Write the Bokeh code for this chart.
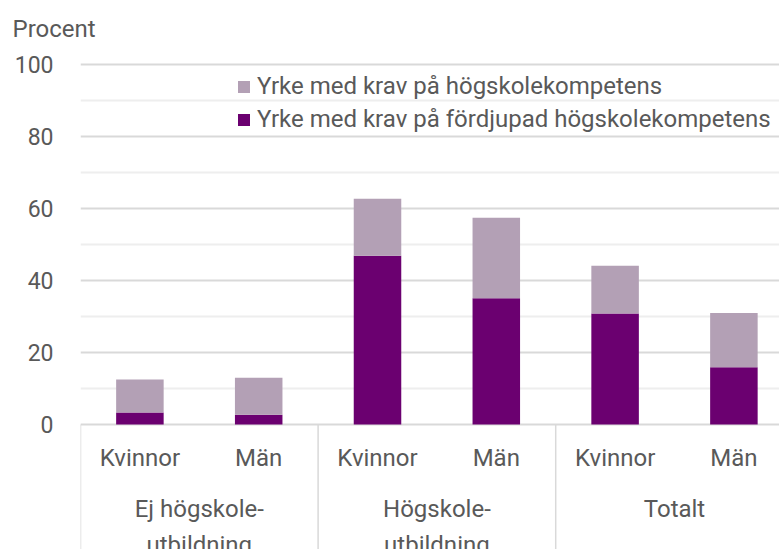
from bokeh.plotting import figure
from bokeh.models import (ColumnDataSource, FixedTicker, Legend, LegendItem, Range1d)
from bokeh.core.properties import value
from bokeh.embed import file_html
from bokeh.resources import INLINE

# ---- data ----
groups = ["Ej högskole-\nutbildning", "Högskole-\nutbildning", "Totalt"]
subgroups = ["Kvinnor", "Män"]
fordjupad = [3.3, 2.7, 46.9, 35.1, 30.8, 15.9]     # Yrke med krav på fördjupad högskolekompetens
hogskole = [9.2, 10.3, 15.8, 22.3, 13.3, 15.1]     # Yrke med krav på högskolekompetens
series_names = ["Yrke med krav på högskolekompetens",
                "Yrke med krav på fördjupad högskolekompetens"]
y_ticks = [0, 20, 40, 60, 80, 100]
y_minor = [10, 30, 50, 70, 90]

# ---- styling ----
FONT = "Roboto"
TXT = "#595959"
DARK = "#6b0070"
LIGHT = "#b3a0b5"
FS = "24px"
FS_TICK = "23px"

n_sub = len(subgroups)
xs = [g * n_sub + s + 0.5 for g in range(len(groups)) for s in range(n_sub)]
sub_labels = [subgroups[s] for g in range(len(groups)) for s in range(n_sub)]
group_x = [g * n_sub + n_sub / 2 for g in range(len(groups))]
group_edges = [g * n_sub for g in range(len(groups))]

W, H = 779, 549
left = 80
top = 44
unit_px = 118.8
px_per_val = 3.6
zero_px = 424  # canvas y of value 0
frame_h = H - top

x_end = (W - left) / unit_px
y_top = (zero_px - top) / px_per_val
y_bot = -(H - zero_px) / px_per_val

p = figure(width=W, height=H, output_backend="svg", toolbar_location=None,
           x_range=Range1d(0, x_end), y_range=Range1d(y_bot, y_top),
           min_border_left=left, min_border_right=0, min_border_top=top,
           min_border_bottom=0, x_axis_location=None,
           title="Procent", title_location="above")
p.outline_line_color = None
p.background_fill_color = "white"
p.border_fill_color = "white"

p.title.align = "left"
p.title.offset = -(left - 12)
p.title.text_font = FONT
p.title.text_font_size = FS
p.title.text_font_style = "normal"
p.title.text_color = TXT
p.title.standoff = 4

# grid
p.xgrid.visible = False
p.ygrid.ticker = FixedTicker(ticks=y_ticks, minor_ticks=y_minor)
p.ygrid.grid_line_color = "#d9d9d9"
p.ygrid.grid_line_width = 2
p.ygrid.minor_grid_line_color = "#eeeeee"
p.ygrid.minor_grid_line_width = 2

# y axis
ya = p.yaxis[0]
ya.ticker = FixedTicker(ticks=y_ticks)
ya.axis_line_color = None
ya.major_tick_line_color = None
ya.minor_tick_line_color = None
ya.major_tick_out = 0
ya.major_tick_in = 0
ya.major_label_standoff = 27
ya.major_label_text_font = FONT
ya.major_label_text_font_size = FS_TICK
ya.major_label_text_color = TXT

src = ColumnDataSource(dict(x=xs, dark=fordjupad, light=hogskole))
rs = p.vbar_stack(["dark", "light"], x="x", width=0.4, source=src,
                  color=[DARK, LIGHT], line_color=None)

# separators below the axis
p.segment(x0=group_edges, x1=group_edges, y0=[0] * len(group_edges),
          y1=[y_bot] * len(group_edges), line_color="#d9d9d9", line_width=1.5)

# category labels
p.text(x=xs, y=[-9.4] * len(xs), text=sub_labels, text_align="center",
       text_baseline="middle", text_font=value(FONT), text_font_size=FS,
       text_color=TXT)
g1 = [g.split("\n")[0] for g in groups]
g2 = [g.split("\n")[1] if "\n" in g else "" for g in groups]
p.text(x=group_x, y=[-23.5] * len(groups), text=g1, text_align="center",
       text_baseline="middle", text_font=value(FONT), text_font_size=FS,
       text_color=TXT)
p.text(x=group_x, y=[-33.5] * len(groups), text=g2, text_align="center",
       text_baseline="middle", text_font=value(FONT), text_font_size=FS,
       text_color=TXT)

legend = Legend(items=[LegendItem(label=series_names[0], renderers=[rs[1]]),
                       LegendItem(label=series_names[1], renderers=[rs[0]])],
                location=(156, H - 133 - top + top), orientation="vertical")
legend.location = (156, H - 133)
legend.padding = 0
legend.margin = 0
legend.spacing = 5
legend.label_height = 28
legend.glyph_height = 15
legend.glyph_width = 15
legend.label_standoff = 6
legend.label_text_font = FONT
legend.label_text_font_size = FS
legend.label_text_color = TXT
legend.background_fill_alpha = 0
legend.border_line_color = None
p.add_layout(legend)

open("out.html", "w").write(file_html(p, INLINE))
